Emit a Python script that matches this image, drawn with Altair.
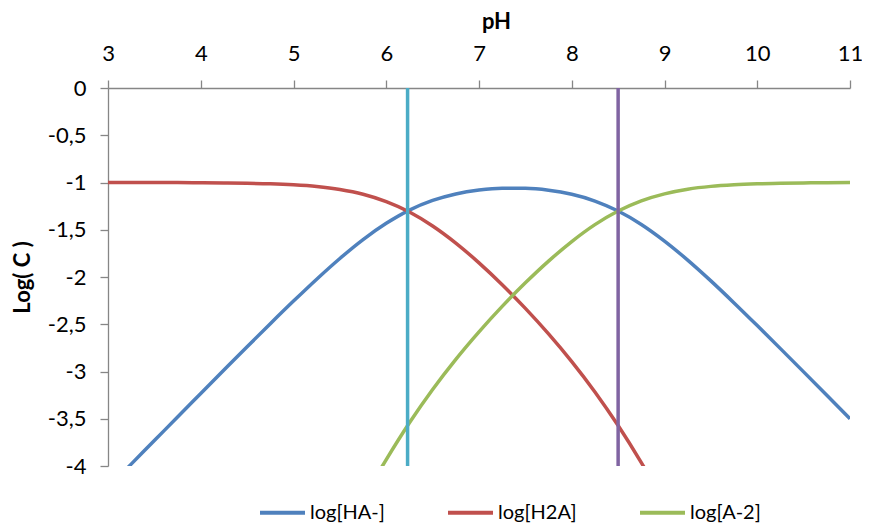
import altair as alt
import pandas as pd

ph = [3.0, 3.25, 3.5, 3.75, 4.0, 4.25, 4.5, 4.75, 5.0, 5.25, 5.5, 5.75, 6.0,
      6.25, 6.5, 6.75, 7.0, 7.25, 7.5, 7.75, 8.0, 8.25, 8.5, 8.75, 9.0,
      9.25, 9.5, 9.75, 10.0, 10.25, 10.5, 10.75, 11.0]

log_ha = [-4.230, -3.980, -3.731, -3.481, -3.233, -2.985, -2.738, -2.494,
          -2.255, -2.023, -1.804, -1.604, -1.432, -1.292, -1.190, -1.121,
          -1.080, -1.061, -1.062, -1.082, -1.125, -1.196, -1.302, -1.444,
          -1.620, -1.821, -2.041, -2.274, -2.514, -2.758, -3.004, -3.252,
          -3.501]

log_h2a = [-1.000, -1.000, -1.001, -1.001, -1.003, -1.005, -1.008, -1.014,
           -1.025, -1.043, -1.074, -1.124, -1.202, -1.312, -1.460, -1.641,
           -1.850, -2.081, -2.332, -2.602, -2.895, -3.216, -3.572, -3.964,
           -4.390, None, None, None, None, None, None, None, None]

log_a2 = [None, None, None, None, None, None, None, None, None, None,
          -4.804, -4.354, -3.932, -3.542, -3.190, -2.871, -2.580, -2.311,
          -2.062, -1.832, -1.625, -1.446, -1.302, -1.194, -1.120, -1.071,
          -1.041, -1.024, -1.014, -1.008, -1.004, -1.002, -1.001]

series_names = ["log[HA-]", "log[H2A]", "log[A-2]"]
series_colors = ["#4F81BD", "#C0504D", "#9BBB59"]

pka_values = [6.23, 8.5]
pka_colors = ["#4BACC6", "#8064A2"]

x_ticks = [3, 4, 5, 6, 7, 8, 9, 10, 11]
y_ticks = [0, -0.5, -1, -1.5, -2, -2.5, -3, -3.5, -4]

rows = []
for name, vals in zip(series_names, [log_ha, log_h2a, log_a2]):
    for p, v in zip(ph, vals):
        if v is not None:
            rows.append({"pH": p, "logC": v, "serie": name})
df = pd.DataFrame(rows)

df_pka = pd.DataFrame({"pH": pka_values, "color": pka_colors})

x_enc = alt.X(
    "pH:Q",
    scale=alt.Scale(domain=[3, 11], nice=False, zero=False),
    axis=alt.Axis(orient="top", values=x_ticks, title="pH", format="d",
                  labelPadding=15, labelFlush=False, titleX=388, titleY=-60,
                  titleAlign="center", titleBaseline="alphabetic"),
)
y_enc = alt.Y(
    "logC:Q",
    scale=alt.Scale(domain=[-4, 0], nice=False),
    axis=alt.Axis(values=y_ticks, title="Log( C )", labelFlush=False,
                  labelExpr="replace(toString(datum.value), '.', ',')",
                  labelPadding=14, titlePadding=13),
)

lines = alt.Chart(df).mark_line(
    clip=True, strokeWidth=3.5, interpolate="monotone"
).encode(
    x=x_enc,
    y=y_enc,
    color=alt.Color(
        "serie:N",
        scale=alt.Scale(domain=series_names, range=series_colors),
        legend=alt.Legend(
            title=None, orient="none", legendX=150, legendY=400,
            direction="horizontal", columns=3, symbolType="stroke",
            symbolSize=2025, symbolStrokeWidth=4, labelFontSize=20,
            labelFont="Lato", labelColor="black", columnPadding=55,
            labelOffset=3,
        ),
    ),
)

rules = alt.Chart(df_pka).mark_rule(strokeWidth=3.5).encode(
    x=alt.X("pH:Q"),
    color=alt.Color("color:N", scale=None),
)

chart = alt.layer(lines, rules).properties(
    width=742,
    height=378,
    autosize=alt.AutoSizeParams(type="none"),
    padding={"left": 100, "top": 80, "right": 12, "bottom": 64},
).configure_view(stroke=None).configure_axis(
    grid=False,
    domainColor="#868686",
    tickColor="#868686",
    domainWidth=1.3,
    tickWidth=1.3,
    tickSize=8,
    labelFont="Lato",
    labelFontSize=22,
    labelColor="black",
    titleFont="Lato",
    titleFontSize=22,
    titleFontWeight="bold",
    titleColor="black",
)

chart.save("out.html", embed_options={"renderer": "svg", "actions": False})
